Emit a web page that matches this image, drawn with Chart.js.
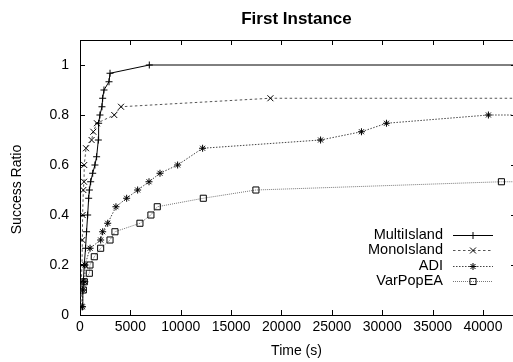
<!DOCTYPE html>
<html><head><meta charset="utf-8">
<script src="https://cdn.jsdelivr.net/npm/chart.js@4/dist/chart.umd.min.js"></script>
<style>html,body{margin:0;padding:0;background:#fff}canvas{display:block}</style>
</head><body>
<canvas id="c" width="513" height="362"></canvas>
<script>
// ---- data ----
const seriesNames = ['MultiIsland', 'MonoIsland', 'ADI', 'VarPopEA'];

const multiTime  = [200, 280, 330, 420, 550, 650, 760, 860, 930, 1060, 1260, 1480, 1650, 1820, 1850, 1980, 2180, 2250, 2380, 2880, 2980, 6880, 50000];
const multiRatio = [0.033, 0.1, 0.133, 0.2, 0.267, 0.333, 0.4, 0.467, 0.5, 0.533, 0.567, 0.6, 0.633, 0.7, 0.767, 0.8, 0.833, 0.867, 0.9, 0.933, 0.967, 1.0, 1.0];

const monoTime  = [100, 130, 200, 230, 260, 330, 400, 420, 600, 1150, 1320, 1680, 3400, 4070, 18900, 50000];
const monoRatio = [0.033, 0.133, 0.2, 0.3, 0.4, 0.5, 0.533, 0.6, 0.667, 0.7, 0.733, 0.767, 0.8, 0.833, 0.867, 0.867];

const adiTime  = [250, 280, 480, 500, 1000, 2050, 2250, 2750, 3570, 4630, 5720, 6850, 7940, 9690, 12170, 23880, 27940, 30420, 40540, 50000];
const adiRatio = [0.033, 0.1, 0.133, 0.2, 0.267, 0.3, 0.333, 0.367, 0.433, 0.467, 0.5, 0.533, 0.567, 0.6, 0.667, 0.7, 0.733, 0.767, 0.8, 0.8];

const varTime  = [330, 430, 925, 990, 1420, 2050, 2980, 3470, 5950, 7040, 7670, 12240, 17460, 41830, 50000];
const varRatio = [0.1, 0.133, 0.167, 0.2, 0.233, 0.267, 0.3, 0.333, 0.367, 0.4, 0.433, 0.467, 0.5, 0.533, 0.533];

const xTickValues = [0, 5000, 10000, 15000, 20000, 25000, 30000, 35000, 40000];
const yTickValues = [0, 0.2, 0.4, 0.6, 0.8, 1];

const X_MAX = 42980;
const Y_MAX = 1.1;
const FONT = "'Liberation Sans', Arial, Helvetica, sans-serif";

function pts(t, v) { return t.map((x, i) => ({ x: x, y: v[i] })); }

const datasets = [
  { label: seriesNames[0], data: pts(multiTime, multiRatio), borderColor: '#000', borderWidth: 1, borderDash: [],
    pointStyle: 'cross', pointRadius: 3.5 },
  { label: seriesNames[1], data: pts(monoTime, monoRatio), borderColor: '#555', borderWidth: 1, borderDash: [2.5, 2.5],
    pointStyle: 'crossRot', pointRadius: 4.2 },
  { label: seriesNames[2], data: pts(adiTime, adiRatio), borderColor: '#444', borderWidth: 1, borderDash: [1.5, 1.5],
    pointStyle: 'star', pointRadius: 3.5 },
  { label: seriesNames[3], data: pts(varTime, varRatio), borderColor: '#777', borderWidth: 1, borderDash: [1, 1],
    pointStyle: 'rect', pointRadius: 4.3 }
].map(d => Object.assign(d, {
  pointBorderColor: '#000', pointBackgroundColor: 'rgba(0,0,0,0)', pointBorderWidth: 1,
  pointHoverRadius: d.pointRadius, fill: false, tension: 0
}));

const yLabelText = 'Success Ratio';

const gnuplotFrame = {
  id: 'gnuplotFrame',
  afterDraw(chart) {
    const { ctx, chartArea: a, scales: { x, y } } = chart;
    ctx.save();
    ctx.strokeStyle = '#000';
    ctx.lineWidth = 1;
    ctx.setLineDash([]);
    ctx.beginPath();
    ctx.moveTo(a.left, a.top + 0.5); ctx.lineTo(a.right, a.top + 0.5);
    xTickValues.forEach(v => {
      const px = Math.round(x.getPixelForValue(v)) + 0.5;
      ctx.moveTo(px, a.bottom); ctx.lineTo(px, a.bottom - 5);
      ctx.moveTo(px, a.top); ctx.lineTo(px, a.top + 5);
    });
    yTickValues.forEach(v => {
      const py = Math.round(y.getPixelForValue(v)) + 0.5;
      ctx.moveTo(a.left, py); ctx.lineTo(a.left + 5, py);
      ctx.moveTo(a.right, py); ctx.lineTo(a.right - 2, py);
    });
    ctx.stroke();

    // y axis label (gnuplot places it slightly below the plot centre)
    ctx.save();
    ctx.translate(17, (a.top + a.bottom) / 2 + 12);
    ctx.rotate(-Math.PI / 2);
    ctx.font = '14px ' + FONT;
    ctx.textAlign = 'center';
    ctx.textBaseline = 'middle';
    ctx.fillStyle = '#000';
    ctx.fillText(yLabelText, 0, 0);
    ctx.restore();

    // legend (gnuplot style: right-aligned text then sample)
    ctx.font = '14.5px ' + FONT;
    ctx.textAlign = 'right';
    ctx.textBaseline = 'middle';
    ctx.fillStyle = '#000';
    const textRight = a.right - 70, l0 = a.right - 60, l1 = a.right - 20;
    chart.data.datasets.forEach((d, i) => {
      const yy = a.top + 194.5 + i * 15.5;
      ctx.fillText(d.label, textRight, yy);
      ctx.beginPath();
      ctx.strokeStyle = d.borderColor;
      ctx.setLineDash(d.borderDash);
      ctx.moveTo(l0, Math.round(yy) + 0.5); ctx.lineTo(l1, Math.round(yy) + 0.5);
      ctx.stroke();
      ctx.setLineDash([]);
      ctx.strokeStyle = '#000';
      ctx.fillStyle = 'rgba(0,0,0,0)';
      Chart.helpers.drawPoint(ctx, { pointStyle: d.pointStyle, radius: d.pointRadius, rotation: 0, borderWidth: 1 },
        (l0 + l1) / 2, Math.round(yy) + 0.5);
      ctx.fillStyle = '#000';
    });
    ctx.restore();
  }
};

new Chart(document.getElementById('c'), {
  type: 'line',
  data: { datasets: datasets },
  plugins: [gnuplotFrame],
  options: {
    responsive: false,
    animation: false,
    layout: { padding: 0, autoPadding: false },
    plugins: {
      legend: { display: false },
      tooltip: { enabled: false },
      title: {
        display: true, text: 'First Instance', fullSize: false, color: '#000',
        font: { family: FONT, size: 17, weight: 'bold' },
        padding: { top: 9, bottom: 10.6 }
      }
    },
    scales: {
      x: {
        type: 'linear', min: 0, max: X_MAX,
        afterBuildTicks: s => { s.ticks = xTickValues.map(v => ({ value: v })); },
        afterFit: s => { s.height = 47; s.paddingRight = 0; s.paddingLeft = 0; },
        grid: { display: false, drawTicks: false },
        border: { display: true, color: '#000', width: 1 },
        ticks: { color: '#000', font: { family: FONT, size: 14 }, padding: 4, maxRotation: 0,
                 callback: v => String(v) },
        title: { display: true, text: 'Time (s)', color: '#000', font: { family: FONT, size: 14 },
                 padding: { top: 0, bottom: 2 } }
      },
      y: {
        type: 'linear', min: 0, max: Y_MAX,
        afterBuildTicks: s => { s.ticks = yTickValues.map(v => ({ value: v })); },
        afterFit: s => { s.width = 80; s.paddingTop = 0; s.paddingBottom = 0; },
        grid: { display: false, drawTicks: false },
        border: { display: true, color: '#000', width: 1 },
        ticks: { color: '#000', font: { family: FONT, size: 14 }, padding: 11,
                 callback: v => (v === 0 || v === 1) ? String(v) : v.toFixed(1) },
        title: { display: false }
      }
    }
  }
});
</script>
</body></html>
